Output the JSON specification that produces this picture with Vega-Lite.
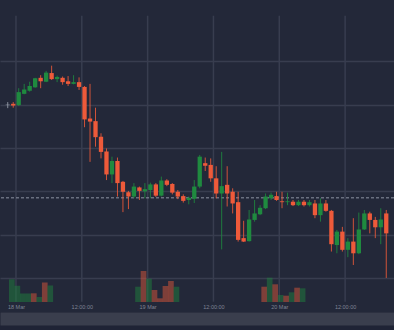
{
  "$schema": "https://vega.github.io/schema/vega-lite/v6.json",
  "width": 394,
  "height": 312,
  "autosize": {"type": "none"},
  "padding": {"left": 0, "top": 0, "right": 0, "bottom": 18},
  "background": "#1f2335",
  "config": {
    "view": {"stroke": null, "fill": "#232839"},
    "axisX": {"grid": false, "domain": true, "domainColor": "#3a3e4d", "domainWidth": 13, "offset": 6.5, "ticks": false, "tickSize": 0, "labelPadding": -12.5, "labelBaseline": "middle", "labelFontSize": 5.5, "labelColor": "#7f8494", "labelFont": "Liberation Sans", "labelFlush": false, "labelOverlap": false},
    "axisY": {"grid": true, "gridColor": "#383d4f", "gridWidth": 1.5, "labels": false, "ticks": false, "domain": false}
  },
  "datasets": {
    "ticks12": [
      {"time": "2024-03-18T00:00:00"}, {"time": "2024-03-18T12:00:00"},
      {"time": "2024-03-19T00:00:00"}, {"time": "2024-03-19T12:00:00"},
      {"time": "2024-03-20T00:00:00"}, {"time": "2024-03-20T12:00:00"}
    ],
    "volume": [
      {"time": "2024-03-17T23:15:00", "volume": 2270, "dir": "up"},
      {"time": "2024-03-18T00:15:00", "volume": 1630, "dir": "up"},
      {"time": "2024-03-18T01:15:00", "volume": 850, "dir": "up"},
      {"time": "2024-03-18T02:15:00", "volume": 850, "dir": "up"},
      {"time": "2024-03-18T03:15:00", "volume": 870, "dir": "down"},
      {"time": "2024-03-18T04:15:00", "volume": 500, "dir": "up"},
      {"time": "2024-03-18T05:15:00", "volume": 1950, "dir": "down"},
      {"time": "2024-03-18T06:15:00", "volume": 1650, "dir": "up"},
      {"time": "2024-03-18T22:15:00", "volume": 1530, "dir": "up"},
      {"time": "2024-03-18T23:15:00", "volume": 3100, "dir": "down"},
      {"time": "2024-03-19T00:15:00", "volume": 2330, "dir": "up"},
      {"time": "2024-03-19T01:15:00", "volume": 1200, "dir": "down"},
      {"time": "2024-03-19T02:15:00", "volume": 370, "dir": "down"},
      {"time": "2024-03-19T03:15:00", "volume": 1600, "dir": "down"},
      {"time": "2024-03-19T04:15:00", "volume": 2100, "dir": "down"},
      {"time": "2024-03-19T05:15:00", "volume": 1530, "dir": "up"},
      {"time": "2024-03-19T21:15:00", "volume": 1530, "dir": "down"},
      {"time": "2024-03-19T22:15:00", "volume": 2430, "dir": "up"},
      {"time": "2024-03-19T23:15:00", "volume": 1770, "dir": "down"},
      {"time": "2024-03-20T00:15:00", "volume": 700, "dir": "up"},
      {"time": "2024-03-20T01:15:00", "volume": 630, "dir": "down"},
      {"time": "2024-03-20T02:15:00", "volume": 970, "dir": "up"},
      {"time": "2024-03-20T03:15:00", "volume": 1430, "dir": "down"},
      {"time": "2024-03-20T04:15:00", "volume": 1370, "dir": "up"}
    ],
    "candles": [
      {"time": "2024-03-17T22:30:00", "open": 1.08399, "high": 1.08406, "low": 1.08392, "close": 1.08400},
      {"time": "2024-03-17T23:30:00", "open": 1.08402, "high": 1.08406, "low": 1.08393, "close": 1.08398},
      {"time": "2024-03-18T00:30:00", "open": 1.08399, "high": 1.08438, "low": 1.08397, "close": 1.08429},
      {"time": "2024-03-18T01:30:00", "open": 1.08425, "high": 1.08448, "low": 1.08424, "close": 1.08435},
      {"time": "2024-03-18T02:30:00", "open": 1.08432, "high": 1.08453, "low": 1.08430, "close": 1.08443},
      {"time": "2024-03-18T03:30:00", "open": 1.08440, "high": 1.08462, "low": 1.08439, "close": 1.08461},
      {"time": "2024-03-18T04:30:00", "open": 1.08462, "high": 1.08468, "low": 1.08438, "close": 1.08454},
      {"time": "2024-03-18T05:30:00", "open": 1.08453, "high": 1.08478, "low": 1.08452, "close": 1.08474},
      {"time": "2024-03-18T06:30:00", "open": 1.08473, "high": 1.08490, "low": 1.08457, "close": 1.08459},
      {"time": "2024-03-18T07:30:00", "open": 1.08459, "high": 1.08467, "low": 1.08452, "close": 1.08464},
      {"time": "2024-03-18T08:30:00", "open": 1.08462, "high": 1.08465, "low": 1.08446, "close": 1.08452},
      {"time": "2024-03-18T09:30:00", "open": 1.08454, "high": 1.08466, "low": 1.08443, "close": 1.08448},
      {"time": "2024-03-18T10:30:00", "open": 1.08448, "high": 1.08468, "low": 1.08447, "close": 1.08452},
      {"time": "2024-03-18T11:30:00", "open": 1.08452, "high": 1.08463, "low": 1.08434, "close": 1.08441},
      {"time": "2024-03-18T12:30:00", "open": 1.08441, "high": 1.08443, "low": 1.08348, "close": 1.08366},
      {"time": "2024-03-18T13:30:00", "open": 1.08368, "high": 1.08448, "low": 1.08268, "close": 1.08361},
      {"time": "2024-03-18T14:30:00", "open": 1.08362, "high": 1.08393, "low": 1.08303, "close": 1.08325},
      {"time": "2024-03-18T15:30:00", "open": 1.08326, "high": 1.08334, "low": 1.08276, "close": 1.08291},
      {"time": "2024-03-18T16:30:00", "open": 1.08292, "high": 1.08299, "low": 1.08226, "close": 1.08239},
      {"time": "2024-03-18T17:30:00", "open": 1.08239, "high": 1.08280, "low": 1.08219, "close": 1.08270},
      {"time": "2024-03-18T18:30:00", "open": 1.08270, "high": 1.08278, "low": 1.08188, "close": 1.08219},
      {"time": "2024-03-18T19:30:00", "open": 1.08222, "high": 1.08224, "low": 1.08152, "close": 1.08199},
      {"time": "2024-03-18T20:30:00", "open": 1.08198, "high": 1.08201, "low": 1.08159, "close": 1.08188},
      {"time": "2024-03-18T21:30:00", "open": 1.08188, "high": 1.08219, "low": 1.08184, "close": 1.08211},
      {"time": "2024-03-18T22:30:00", "open": 1.08209, "high": 1.08211, "low": 1.08180, "close": 1.08201},
      {"time": "2024-03-18T23:30:00", "open": 1.08200, "high": 1.08219, "low": 1.08184, "close": 1.08205},
      {"time": "2024-03-19T00:30:00", "open": 1.08203, "high": 1.08220, "low": 1.08184, "close": 1.08216},
      {"time": "2024-03-19T01:30:00", "open": 1.08216, "high": 1.08219, "low": 1.08187, "close": 1.08190},
      {"time": "2024-03-19T02:30:00", "open": 1.08190, "high": 1.08234, "low": 1.08188, "close": 1.08225},
      {"time": "2024-03-19T03:30:00", "open": 1.08225, "high": 1.08228, "low": 1.08212, "close": 1.08215},
      {"time": "2024-03-19T04:30:00", "open": 1.08217, "high": 1.08219, "low": 1.08193, "close": 1.08197},
      {"time": "2024-03-19T05:30:00", "open": 1.08199, "high": 1.08203, "low": 1.08182, "close": 1.08188},
      {"time": "2024-03-19T06:30:00", "open": 1.08189, "high": 1.08193, "low": 1.08174, "close": 1.08178},
      {"time": "2024-03-19T07:30:00", "open": 1.08180, "high": 1.08188, "low": 1.08170, "close": 1.08185},
      {"time": "2024-03-19T08:30:00", "open": 1.08183, "high": 1.08226, "low": 1.08173, "close": 1.08211},
      {"time": "2024-03-19T09:30:00", "open": 1.08211, "high": 1.08284, "low": 1.08207, "close": 1.08280},
      {"time": "2024-03-19T10:30:00", "open": 1.08265, "high": 1.08278, "low": 1.08247, "close": 1.08259},
      {"time": "2024-03-19T11:30:00", "open": 1.08261, "high": 1.08276, "low": 1.08222, "close": 1.08230},
      {"time": "2024-03-19T12:30:00", "open": 1.08230, "high": 1.08258, "low": 1.08184, "close": 1.08195},
      {"time": "2024-03-19T13:30:00", "open": 1.08195, "high": 1.08291, "low": 1.08066, "close": 1.08212},
      {"time": "2024-03-19T14:30:00", "open": 1.08215, "high": 1.08258, "low": 1.08165, "close": 1.08195},
      {"time": "2024-03-19T15:30:00", "open": 1.08199, "high": 1.08207, "low": 1.08149, "close": 1.08172},
      {"time": "2024-03-19T16:30:00", "open": 1.08175, "high": 1.08199, "low": 1.08084, "close": 1.08088},
      {"time": "2024-03-19T17:30:00", "open": 1.08092, "high": 1.08132, "low": 1.08083, "close": 1.08084},
      {"time": "2024-03-19T18:30:00", "open": 1.08085, "high": 1.08157, "low": 1.08084, "close": 1.08135},
      {"time": "2024-03-19T19:30:00", "open": 1.08134, "high": 1.08180, "low": 1.08130, "close": 1.08149},
      {"time": "2024-03-19T20:30:00", "open": 1.08147, "high": 1.08168, "low": 1.08145, "close": 1.08162},
      {"time": "2024-03-19T21:30:00", "open": 1.08161, "high": 1.08195, "low": 1.08159, "close": 1.08188},
      {"time": "2024-03-19T22:30:00", "open": 1.08184, "high": 1.08197, "low": 1.08180, "close": 1.08192},
      {"time": "2024-03-19T23:30:00", "open": 1.08189, "high": 1.08199, "low": 1.08178, "close": 1.08180},
      {"time": "2024-03-20T00:30:00", "open": 1.08177, "high": 1.08199, "low": 1.08161, "close": 1.08175},
      {"time": "2024-03-20T01:30:00", "open": 1.08175, "high": 1.08197, "low": 1.08168, "close": 1.08177},
      {"time": "2024-03-20T02:30:00", "open": 1.08176, "high": 1.08180, "low": 1.08166, "close": 1.08168},
      {"time": "2024-03-20T03:30:00", "open": 1.08168, "high": 1.08180, "low": 1.08166, "close": 1.08176},
      {"time": "2024-03-20T04:30:00", "open": 1.08176, "high": 1.08180, "low": 1.08165, "close": 1.08168},
      {"time": "2024-03-20T05:30:00", "open": 1.08168, "high": 1.08180, "low": 1.08165, "close": 1.08175},
      {"time": "2024-03-20T06:30:00", "open": 1.08172, "high": 1.08180, "low": 1.08138, "close": 1.08145},
      {"time": "2024-03-20T07:30:00", "open": 1.08145, "high": 1.08184, "low": 1.08130, "close": 1.08172},
      {"time": "2024-03-20T08:30:00", "open": 1.08172, "high": 1.08180, "low": 1.08153, "close": 1.08155},
      {"time": "2024-03-20T09:30:00", "open": 1.08155, "high": 1.08157, "low": 1.08061, "close": 1.08078},
      {"time": "2024-03-20T10:30:00", "open": 1.08076, "high": 1.08111, "low": 1.08057, "close": 1.08107},
      {"time": "2024-03-20T11:30:00", "open": 1.08107, "high": 1.08118, "low": 1.08061, "close": 1.08065},
      {"time": "2024-03-20T12:30:00", "open": 1.08065, "high": 1.08092, "low": 1.08048, "close": 1.08084},
      {"time": "2024-03-20T13:30:00", "open": 1.08084, "high": 1.08138, "low": 1.08030, "close": 1.08057},
      {"time": "2024-03-20T14:30:00", "open": 1.08057, "high": 1.08151, "low": 1.08055, "close": 1.08112},
      {"time": "2024-03-20T15:30:00", "open": 1.08112, "high": 1.08157, "low": 1.08111, "close": 1.08149},
      {"time": "2024-03-20T16:30:00", "open": 1.08149, "high": 1.08153, "low": 1.08103, "close": 1.08134},
      {"time": "2024-03-20T17:30:00", "open": 1.08134, "high": 1.08141, "low": 1.08092, "close": 1.08117},
      {"time": "2024-03-20T18:30:00", "open": 1.08117, "high": 1.08161, "low": 1.08078, "close": 1.08135},
      {"time": "2024-03-20T19:30:00", "open": 1.08149, "high": 1.08157, "low": 1.08000, "close": 1.08103}
    ]
  },
  "layer": [
    {
      "layer": [
        {
          "data": {"name": "ticks12"},
          "mark": {"type": "rule", "color": "#383d4f", "strokeWidth": 1.5},
          "encoding": {
            "x": {"field": "time", "type": "temporal", "title": null,
                  "scale": {"domain": [{"year": 2024, "month": 3, "date": 17, "hours": 22}, {"year": 2024, "month": 3, "date": 20, "hours": 20}]},
                  "axis": {"values": [
                    {"year": 2024, "month": 3, "date": 18, "hours": 0},
                    {"year": 2024, "month": 3, "date": 18, "hours": 12},
                    {"year": 2024, "month": 3, "date": 19, "hours": 0},
                    {"year": 2024, "month": 3, "date": 19, "hours": 12},
                    {"year": 2024, "month": 3, "date": 20, "hours": 0},
                    {"year": 2024, "month": 3, "date": 20, "hours": 12}],
                    "labelExpr": "hours(datum.value) == 0 ? timeFormat(datum.value, '%d %b') : timeFormat(datum.value, '%H:%M:%S')"}},
            "y": {"datum": 1.08605, "type": "quantitative", "title": null,
                  "scale": {"domain": [1.079215, 1.086416], "zero": false, "nice": false},
                  "axis": {"values": [1.080, 1.081, 1.082, 1.083, 1.084, 1.085]}},
            "y2": {"datum": 1.07945}
          }
        },
        {
          "data": {"values": [{"level": 1.08185}]},
          "mark": {"type": "rule", "color": "#8e94a4", "strokeDash": [3, 2], "strokeWidth": 1},
          "encoding": {
            "y": {"field": "level", "type": "quantitative", "title": null, "scale": {"domain": [1.079215, 1.086416], "zero": false, "nice": false}}
          }
        },
        {
          "data": {"name": "candles"},
          "mark": {"type": "rule", "strokeWidth": 1, "opacity": 0.85},
          "encoding": {
            "x": {"field": "time", "type": "temporal", "title": null},
            "y": {"field": "low", "type": "quantitative", "title": null, "scale": {"domain": [1.079215, 1.086416], "zero": false, "nice": false}},
            "y2": {"field": "high"},
            "color": {"condition": [
              {"test": "abs(datum.close - datum.open) < 0.000015", "value": "#9aa0ad"},
              {"test": "datum.close > datum.open", "value": "#1f8a3f"}], "value": "#ee5a3a"}
          }
        },
        {
          "data": {"name": "candles"},
          "mark": {"type": "bar", "width": 4.3},
          "encoding": {
            "x": {"field": "time", "type": "temporal", "title": null},
            "y": {"field": "open", "type": "quantitative", "title": null, "scale": {"domain": [1.079215, 1.086416], "zero": false, "nice": false}},
            "y2": {"field": "close"},
            "color": {"condition": [
              {"test": "abs(datum.close - datum.open) < 0.000015", "value": "#9aa0ad"},
              {"test": "datum.close > datum.open", "value": "#1f8a3f"}], "value": "#ee5a3a"}
          }
        }
      ]
    },
    {
      "data": {"name": "volume"},
      "mark": {"type": "bar", "width": 5.7, "opacity": 0.45},
      "encoding": {
        "x": {"field": "time", "type": "temporal", "title": null},
        "y": {"field": "volume", "type": "quantitative", "title": null, "axis": null, "scale": {"domain": [-1000, 30200], "zero": false, "nice": false}},
        "y2": {"datum": 0},
        "color": {"field": "dir", "type": "nominal", "legend": null, "scale": {"domain": ["up", "down"], "range": ["#1f8a3f", "#ee5a3a"]}}
      }
    }
  ],
  "resolve": {"scale": {"y": "independent"}, "axis": {"y": "independent"}}
}
